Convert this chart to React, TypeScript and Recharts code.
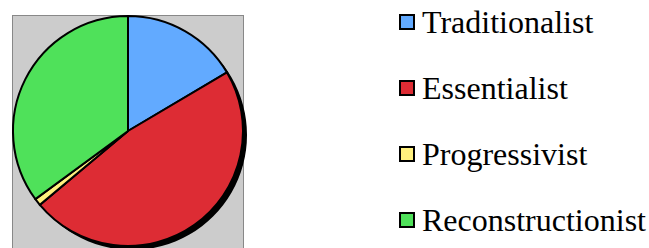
import { Legend, Pie, PieChart, Cell } from "recharts";

const categories = ["Traditionalist", "Essentialist", "Progressivist", "Reconstructionist"];
const values = [16.5, 47.4, 1.0, 35.1];
const colors = ["#62AAFF", "#DD2C34", "#FFF07E", "#4FE15A"];

const data = categories.map((name, i) => ({ name, value: values[i] }));
const shadow = [{ name: "shadow", value: 1 }];

function LegendList() {
  return (
    <div style={{ fontFamily: "Liberation Serif", fontSize: 32, color: "#000" }}>
      {categories.map((c, i) => (
        <div key={c} style={{ height: 66, display: "flex", alignItems: "center" }}>
          <span
            style={{
              display: "inline-block",
              width: 12,
              height: 12,
              border: "2px solid #000",
              background: colors[i],
              marginRight: 7,
            }}
          />
          <span style={{ fontFamily: "Liberation Serif", lineHeight: "32px" }}>{c}</span>
        </div>
      ))}
    </div>
  );
}

export default function App() {
  return (
    <div style={{ position: "absolute", left: 0, top: 0, width: 649, height: 248, overflow: "hidden", background: "#fff" }}>
      <div
        style={{
          position: "absolute",
          left: 12,
          top: 15,
          width: 230,
          height: 240,
          background: "#CCCCCC",
          border: "1px solid #888888",
        }}
      />
      <div style={{ position: "absolute", left: 0, top: 0 }}>
        <PieChart width={649} height={248} margin={{ top: 0, right: 0, bottom: 0, left: 0 }}>
          <Pie
            data={shadow}
            dataKey="value"
            cx={132}
            cy={135}
            outerRadius={115}
            startAngle={90}
            endAngle={-270}
            fill="#000"
            stroke="none"
            isAnimationActive={false}
            legendType="none"
          />
          <Pie
            data={data}
            dataKey="value"
            cx={128}
            cy={131}
            outerRadius={115}
            startAngle={90}
            endAngle={-270}
            stroke="#000"
            strokeWidth={2}
            isAnimationActive={false}
          >
            {data.map((d, i) => (
              <Cell key={d.name} fill={colors[i]} />
            ))}
          </Pie>
          <Legend
            layout="vertical"
            content={() => <LegendList />}
            wrapperStyle={{ position: "absolute", left: 399, top: -11, width: 250 }}
          />
        </PieChart>
      </div>
    </div>
  );
}
